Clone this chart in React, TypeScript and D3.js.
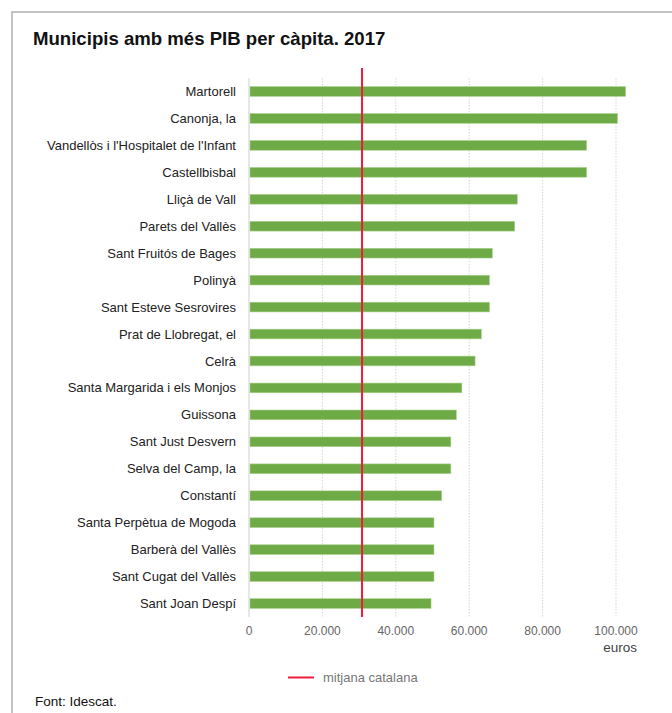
import * as d3 from "d3"

const municipis = [
  "Martorell",
  "Canonja, la",
  "Vandellòs i l'Hospitalet de l'Infant",
  "Castellbisbal",
  "Lliçà de Vall",
  "Parets del Vallès",
  "Sant Fruitós de Bages",
  "Polinyà",
  "Sant Esteve Sesrovires",
  "Prat de Llobregat, el",
  "Celrà",
  "Santa Margarida i els Monjos",
  "Guissona",
  "Sant Just Desvern",
  "Selva del Camp, la",
  "Constantí",
  "Santa Perpètua de Mogoda",
  "Barberà del Vallès",
  "Sant Cugat del Vallès",
  "Sant Joan Despí",
]

const pib = [
  102600, 100400, 92000, 92000, 73100, 72400, 66300, 65500, 65500, 63300,
  61600, 58000, 56500, 55000, 55000, 52500, 50400, 50400, 50400, 49600,
]

const mitjanaCatalana = 30800
const xTicks = [0, 20000, 40000, 60000, 80000, 100000]

const font = "'Liberation Sans', Arial, Helvetica, sans-serif"

export default function App() {
  const width = 672
  const height = 713
  const left = 249
  const right = 616
  const top = 78
  const bottom = 617

  const x = d3.scaleLinear().domain([0, 100000]).range([left, right])
  const y = d3.scaleBand().domain(municipis).range([top, bottom]).paddingInner(0.64).paddingOuter(0.32)

  const fmt = (v: number) => d3.format(",")(v).replace(/,/g, ".")

  return (
    <svg
      width={width}
      height={height}
      style={{ position: "absolute", left: 0, top: 0, fontFamily: font }}
    >
      <rect x={0} y={0} width={width} height={height} fill="#fff" />
      {/* marc */}
      <path d={`M12,${height} V12 H${width}`} fill="none" stroke="#b0b0b0" strokeWidth={1.5} />

      <text x={33} y={45} fontSize={18.6} fontWeight="bold" fill="#111">
        Municipis amb més PIB per càpita. 2017
      </text>

      {/* graella */}
      {xTicks.slice(1).map((t) => (
        <line
          key={t}
          x1={x(t)}
          x2={x(t)}
          y1={top}
          y2={bottom}
          stroke="#d4d4d4"
          strokeDasharray="1.5,1.5"
        />
      ))}
      <line x1={x(0)} x2={x(0)} y1={top} y2={bottom} stroke="#cfcfcf" strokeWidth={1} />

      {/* barres */}
      {municipis.map((m, i) => (
        <rect
          key={m}
          x={x(0) + 1}
          y={y(m)}
          width={x(pib[i]) - x(0) - 1}
          height={y.bandwidth()}
          fill="#6eaa45"
          stroke="#a9d08e"
          strokeWidth={0.6}
        />
      ))}

      {/* etiquetes */}
      {municipis.map((m) => (
        <text
          key={m}
          x={236}
          y={(y(m) ?? 0) + y.bandwidth() / 2}
          dy="0.35em"
          textAnchor="end"
          fontSize={13}
          fill="#222"
        >
          {m}
        </text>
      ))}

      {/* mitjana */}
      <line
        x1={x(mitjanaCatalana)}
        x2={x(mitjanaCatalana)}
        y1={68}
        y2={bottom}
        stroke="#ee1c3a"
        strokeWidth={2}
      />

      {/* eix x */}
      {xTicks.map((t) => (
        <text key={t} x={x(t)} y={635} textAnchor="middle" fontSize={12} fill="#666">
          {fmt(t)}
        </text>
      ))}
      <text x={637} y={652} textAnchor="end" fontSize={13.5} fill="#444">
        euros
      </text>

      {/* llegenda */}
      <line x1={288} x2={314} y1={677.5} y2={677.5} stroke="#ee1c3a" strokeWidth={2} />
      <text x={323} y={682} fontSize={13} fill="#777">
        mitjana catalana
      </text>

      <text x={35} y={706} fontSize={13.5} fill="#111">
        Font: Idescat.
      </text>
    </svg>
  )
}
